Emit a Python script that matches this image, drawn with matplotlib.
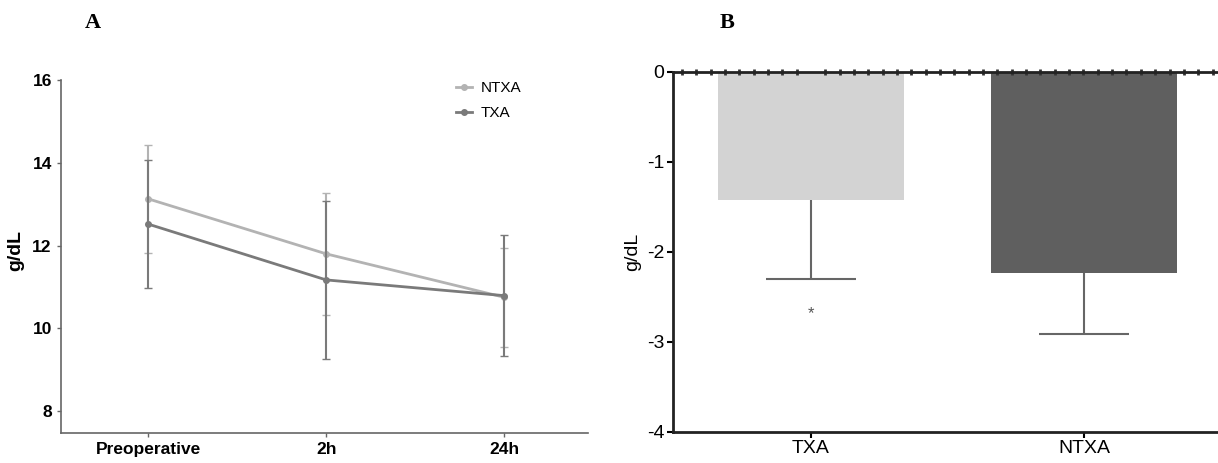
import matplotlib
matplotlib.use("Agg")
import matplotlib.pyplot as plt
from matplotlib.ticker import MultipleLocator
from matplotlib.lines import Line2D

# panel A data
times = ["Preoperative", "2h", "24h"]
ntxa_mean = [13.13, 11.80, 10.75]
ntxa_err = [1.30, 1.47, 1.20]
txa_mean = [12.52, 11.17, 10.79]
txa_err = [1.55, 1.91, 1.47]

# panel B data
groups = ["TXA", "NTXA"]
change = [-1.42, -2.23]
change_err = [0.88, 0.68]
star_y = -2.68

plt.rcParams['font.family'] = ['Liberation Sans', 'DejaVu Sans']

fig = plt.figure(figsize=(12.18, 4.63), dpi=100)

# ---- panel A ----
ax1 = fig.add_axes([0.050, 0.0648, 0.4327, 0.789])
x = list(range(len(times)))
c_ntxa = '#b3b3b3'
c_txa = '#7a7a7a'
ax1.errorbar(x, ntxa_mean, yerr=ntxa_err, color=c_ntxa, lw=2, marker='o', ms=4,
             capsize=3, elinewidth=1.5, zorder=2)
ax1.errorbar(x, txa_mean, yerr=txa_err, color=c_txa, lw=2, marker='o', ms=4,
             capsize=3, elinewidth=1.5, zorder=3)
ax1.set_xlim(-0.49, 2.47)
ax1.set_ylim(7.47, 16.3)
ax1.set_yticks([8, 10, 12, 14, 16])
ax1.set_xticks(x)
ax1.set_xticklabels(times, fontsize=12.5, fontweight='bold')
for t in ax1.get_yticklabels():
    t.set_fontsize(12.5)
    t.set_fontweight('bold')
ax1.spines['top'].set_visible(False)
ax1.spines['right'].set_visible(False)
ax1.spines['left'].set_bounds(7.47, 16)
for s in ['left', 'bottom']:
    ax1.spines[s].set_color('#666666')
    ax1.spines[s].set_linewidth(1.2)
ax1.tick_params(length=3, color='#666666', width=1)
ax1.set_ylabel('g/dL', fontsize=14, fontweight='bold', labelpad=6)
handles = [Line2D([], [], color=c_ntxa, lw=2, marker='o', ms=4),
           Line2D([], [], color=c_txa, lw=2, marker='o', ms=4)]
ax1.legend(handles, ['NTXA', 'TXA'], loc='upper right', bbox_to_anchor=(0.9, 1.0),
           frameon=False, fontsize=11, handlelength=1.0, handletextpad=0.6,
           labelspacing=0.7)
fig.text(0.076, 0.95, 'A', fontsize=16, fontweight='bold', family='Liberation Serif',
         ha='center', va='center')

# ---- panel B ----
ax2 = fig.add_axes([0.5525, 0.067, 0.4475, 0.7775])
bx = list(range(len(groups)))
ax2.bar(bx, change, width=0.68, color=['#d3d3d3', '#5f5f5f'], zorder=1)
low = [c - e for c, e in zip(change, change_err)]
ax2.vlines(bx, change, low, color='#666666', lw=1.5, zorder=2)
ax2.hlines(low, [b - 0.165 for b in bx], [b + 0.165 for b in bx], color='#666666',
           lw=1.5, zorder=2)
ax2.text(bx[0], star_y, '*', fontsize=12, color='#555555', ha='center', va='center')
ax2.set_xlim(-0.505, 1.49)
ax2.set_ylim(-4, 0)
ax2.set_yticks([0, -1, -2, -3, -4])
ax2.set_yticklabels(['0', '-1', '-2', '-3', '-4'], fontsize=14)
ax2.set_xticks(bx)
ax2.set_xticklabels(groups, fontsize=14)
ax2.spines['right'].set_visible(False)
for s in ['left', 'bottom', 'top']:
    ax2.spines[s].set_linewidth(2)
    ax2.spines[s].set_color('#222222')
ax2.tick_params(axis='both', which='major', length=4, width=1.5, pad=2)
ax2.xaxis.set_minor_locator(MultipleLocator(0.0525))
ax2.tick_params(axis='x', which='minor', bottom=False, top=True, direction='inout',
                length=4, width=2, color='#333333')
ax2.set_ylabel('g/dL', fontsize=14, labelpad=4)
fig.text(0.597, 0.95, 'B', fontsize=16, fontweight='bold', family='Liberation Serif',
         ha='center', va='center')

fig.savefig('out.png', dpi=100)
